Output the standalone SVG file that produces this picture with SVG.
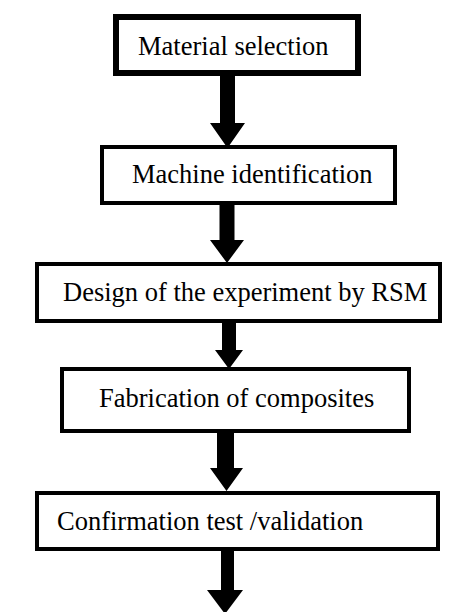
<svg xmlns="http://www.w3.org/2000/svg" width="462" height="612" viewBox="0 0 462 612">
<style>
.box{fill:#fff;stroke:#000;stroke-width:4}
.t{font-family:"Liberation Serif","Times New Roman",serif;font-size:26.5px;fill:#000}
.arr{fill:#000}
</style>
<rect width="462" height="612" fill="#fff"/>
<g id="connectors">
<polygon class="arr" points="220,76 235,76 235,123 245,123 227.5,148 210,123 220,123"/>
<polygon class="arr" points="219.5,204 234.5,204 234.5,240 244,240 227,263 210,240 219.5,240"/>
<polygon class="arr" points="222,323 236,323 236,350 243,350 229,369 215,350 222,350"/>
<polygon class="arr" points="217,433 234,433 234,468 243,468 226.5,491 210,468 217,468"/>
<polygon class="arr" points="221,551 234,551 234,590 243,590 225,614 207,590 221,590"/>
</g>
<g id="n1">
<rect class="box" x="116" y="17" width="242" height="56" style="stroke-width:6"/>
<text class="t" x="138" y="55">Material selection</text>
</g>
<g id="n2">
<rect class="box" x="102" y="147" width="293" height="56"/>
<text class="t" x="132" y="183">Machine identification</text>
</g>
<g id="n3">
<rect class="box" x="37" y="264" width="403" height="57"/>
<text class="t" x="63" y="301">Design of the experiment by RSM</text>
</g>
<g id="n4">
<rect class="box" x="62" y="369" width="347" height="62"/>
<text class="t" x="99" y="407">Fabrication of composites</text>
</g>
<g id="n5">
<rect class="box" x="37" y="493" width="401" height="56"/>
<text class="t" x="57" y="530">Confirmation test /validation</text>
</g>
</svg>
